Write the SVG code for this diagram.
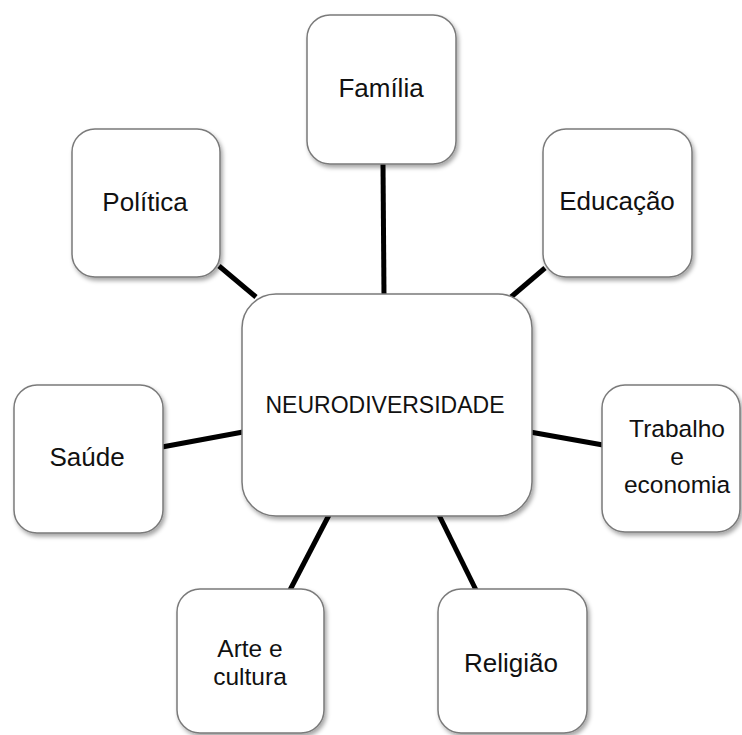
<svg xmlns="http://www.w3.org/2000/svg" width="742" height="735" viewBox="0 0 742 735">
<defs>
<filter id="sh" x="-10%" y="-10%" width="125%" height="125%">
<feDropShadow dx="2" dy="3" stdDeviation="2" flood-color="#000" flood-opacity="0.35"/>
</filter>
<style>
.box{fill:#fff;stroke:#7a7a7a;stroke-width:1.5;filter:url(#sh)}
.lbl{font-family:"Liberation Sans",Arial,sans-serif;font-size:26px;fill:#111;text-anchor:middle}
.multi{font-size:24.5px}
.center{font-size:23px}
.con line{stroke:#000;stroke-width:5}
</style>
</defs>
<rect width="742" height="735" fill="#fff"/>
<g id="connectors" class="con">
<line x1="383" y1="164" x2="384" y2="296"/>
<line x1="511" y1="297" x2="545" y2="268"/>
<line x1="219" y1="266" x2="256" y2="297"/>
<line x1="162" y1="447" x2="243" y2="432"/>
<line x1="530" y1="432" x2="603" y2="445"/>
<line x1="329" y1="515" x2="290" y2="590"/>
<line x1="439" y1="515" x2="476" y2="590"/>
</g>
<g id="n-center">
<rect class="box" x="242" y="294" width="290" height="222" rx="34"/>
<text class="lbl center" x="385" y="413">NEURODIVERSIDADE</text>
</g>
<g id="n-familia">
<rect class="box" x="307" y="15" width="149" height="149" rx="23"/>
<text class="lbl" x="381" y="97">Família</text>
</g>
<g id="n-educacao">
<rect class="box" x="543" y="129" width="149" height="148" rx="23"/>
<text class="lbl" x="617" y="210">Educação</text>
</g>
<g id="n-politica">
<rect class="box" x="72" y="129" width="148" height="148" rx="23"/>
<text class="lbl" x="145" y="211">Política</text>
</g>
<g id="n-saude">
<rect class="box" x="14" y="385" width="149" height="148" rx="23"/>
<text class="lbl" x="87" y="466">Saúde</text>
</g>
<g id="n-trabalho">
<rect class="box" x="602" y="385" width="138" height="147" rx="23"/>
<text class="lbl multi" x="677" y="437">Trabalho<tspan x="677" y="465">e</tspan><tspan x="677" y="493">economia</tspan></text>
</g>
<g id="n-arte">
<rect class="box" x="177" y="589" width="147" height="144" rx="23"/>
<text class="lbl multi" x="250" y="657">Arte e<tspan x="250" y="685">cultura</tspan></text>
</g>
<g id="n-religiao">
<rect class="box" x="438" y="589" width="149" height="144" rx="23"/>
<text class="lbl" x="511" y="672">Religião</text>
</g>
</svg>
